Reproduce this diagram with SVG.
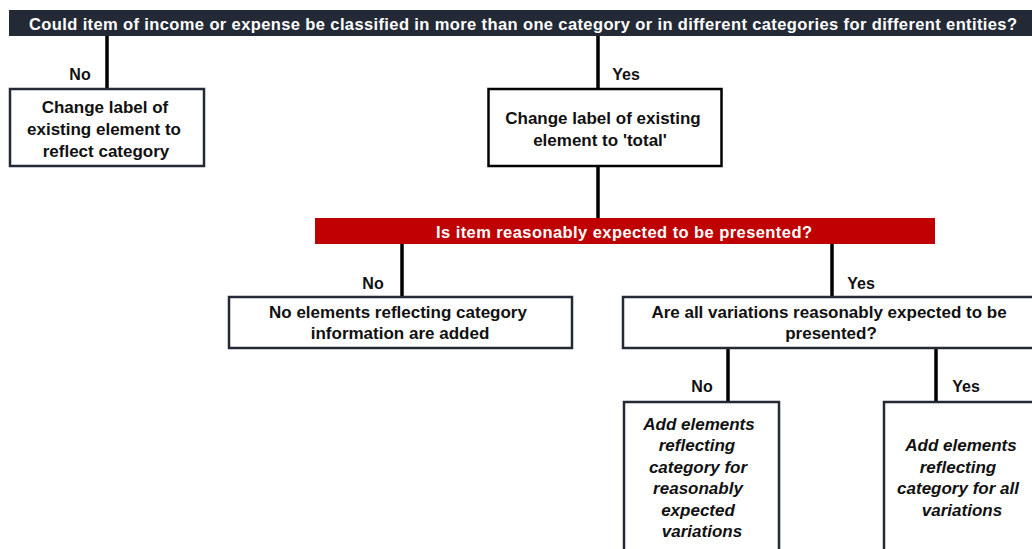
<svg xmlns="http://www.w3.org/2000/svg" width="1032" height="549" viewBox="0 0 1032 549">
<style>
  text { font-family: "Liberation Sans", Arial, sans-serif; font-weight: bold; font-size: 17px; fill: #111; text-anchor: middle; }
  .bar-text { fill: #ffffff; font-size: 16.5px; }
  .box { fill: #ffffff; stroke: #232a36; stroke-width: 2.5; }
  .box-black { fill: #ffffff; stroke: #000000; stroke-width: 2.5; }
  .conn { stroke: #000000; stroke-width: 3.5; fill: none; }
  .it { font-style: italic; }
  .lbl { font-size: 16px; }
</style>
<rect width="1032" height="549" fill="#ffffff"/>

<g id="connectors">
  <line class="conn" x1="107" y1="36" x2="107" y2="89"/>
  <line class="conn" x1="598" y1="36" x2="598" y2="89"/>
  <line class="conn" x1="598" y1="166" x2="598" y2="218"/>
  <line class="conn" x1="402" y1="244" x2="402" y2="297"/>
  <line class="conn" x1="832" y1="244" x2="832" y2="297"/>
  <line class="conn" x1="728" y1="348" x2="728" y2="402"/>
  <line class="conn" x1="936" y1="348" x2="936" y2="402"/>
  <text class="lbl" x="80" y="80">No</text>
  <text class="lbl" x="626" y="80">Yes</text>
  <text class="lbl" x="373" y="289">No</text>
  <text class="lbl" x="861" y="289">Yes</text>
  <text class="lbl" x="702" y="392">No</text>
  <text class="lbl" x="966" y="392">Yes</text>
</g>

<g id="q1">
  <rect x="9" y="10" width="1030" height="26" fill="#232a36"/>
  <text class="bar-text" x="523" y="29.5" textLength="988">Could item of income or expense be classified in more than one category or in different categories for different entities?</text>
</g>

<g id="box-no1">
  <rect class="box" x="10" y="89" width="194" height="77"/>
  <text x="105" y="113">Change label of</text>
  <text x="104" y="135">existing element to</text>
  <text x="106" y="157">reflect category</text>
</g>

<g id="box-yes1">
  <rect class="box-black" x="488.5" y="89" width="233" height="77"/>
  <text x="603" y="124">Change label of existing</text>
  <text x="600" y="146">element to 'total'</text>
</g>

<g id="q2">
  <rect x="315" y="218" width="620" height="26" fill="#c00000"/>
  <text class="bar-text" x="624" y="238" textLength="376">Is item reasonably expected to be presented?</text>
</g>

<g id="box-no2">
  <rect class="box" x="229" y="297" width="343" height="51"/>
  <text x="398" y="318">No elements reflecting category</text>
  <text x="400" y="339">information are added</text>
</g>

<g id="q3">
  <rect class="box" x="623" y="297" width="420" height="51"/>
  <text x="829" y="318">Are all variations reasonably expected to be</text>
  <text x="831" y="339">presented?</text>
</g>

<g id="box-no3">
  <rect class="box" x="624" y="402" width="155" height="200"/>
  <text class="it" x="699" y="429.5">Add elements</text>
  <text class="it" x="697" y="451">reflecting</text>
  <text class="it" x="698" y="472.5">category for</text>
  <text class="it" x="698" y="494">reasonably</text>
  <text class="it" x="698" y="515.5">expected</text>
  <text class="it" x="702" y="537">variations</text>
</g>

<g id="box-yes3">
  <rect class="box" x="884" y="402" width="200" height="200"/>
  <text class="it" x="961" y="451">Add elements</text>
  <text class="it" x="958" y="472.5">reflecting</text>
  <text class="it" x="958" y="494">category for all</text>
  <text class="it" x="962" y="515.5">variations</text>
</g>
</svg>
